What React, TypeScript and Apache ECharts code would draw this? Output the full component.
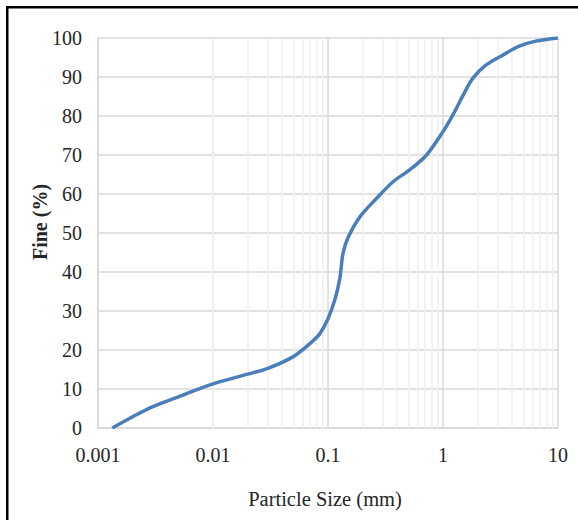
import React, { useEffect, useRef } from "react";
import * as echarts from "echarts";

// Particle size (mm) and percent finer
const sizes = [0.00133, 0.002, 0.003, 0.005, 0.01, 0.02, 0.03, 0.05, 0.07, 0.085, 0.1, 0.115, 0.127, 0.135, 0.15, 0.19, 0.265, 0.37, 0.52, 0.72, 1.0, 1.22, 1.5, 1.82, 2.37, 3.3, 4.6, 6.4, 10];
const fines = [0, 2.9, 5.5, 8.0, 11.3, 13.8, 15.3, 18.3, 21.7, 24.2, 28.0, 33.0, 38.5, 44.8, 49.0, 54.2, 58.9, 63.2, 66.3, 70.0, 76.0, 80.3, 85.4, 89.7, 93.1, 95.6, 97.9, 99.2, 100];

const xTickLabels = ["0.001", "0.01", "0.1", "1", "10"];
const decades = [0.001, 0.01, 0.1, 1];
const minorMultipliers = [2, 3, 4, 5, 6, 7, 8, 9];

const xTitle = "Particle Size (mm)";
const yTitle = "Fine (%)";

const FONT = "'Liberation Serif', 'Times New Roman', serif";

export default function App() {
  const ref = useRef<HTMLDivElement>(null);

  useEffect(() => {
    if (!ref.current) return;
    const chart = echarts.init(ref.current, undefined, { renderer: "svg" });
    const minorValues: number[] = [];
    decades.forEach((d) => minorMultipliers.forEach((m) => minorValues.push(Number((d * m).toPrecision(3)))));

    const option: any = {
      animation: false,
      backgroundColor: "#ffffff",
      grid: { left: 98, right: 20, top: 38, bottom: 92, containLabel: false },
      xAxis: {
        type: "log",
        logBase: 10,
        min: 0.001,
        max: 10,
        splitNumber: 4,
        axisLine: { show: true, lineStyle: { color: "#d9d9d9", width: 1.5 } },
        axisTick: { show: false },
        splitLine: { show: true, lineStyle: { color: "#d9d9d9", width: 1.5 } },
        axisLabel: {
          margin: 17,
          fontFamily: FONT,
          fontSize: 20,
          color: "#262626",
          formatter: (v: number) => {
            const lg = Math.round(Math.log10(v));
            return xTickLabels[lg + 3] ?? String(v);
          },
        },
      },
      yAxis: {
        type: "value",
        min: 0,
        max: 100,
        interval: 10,
        axisLine: { show: true, lineStyle: { color: "#d9d9d9", width: 1.5 } },
        axisTick: { show: false },
        splitLine: { show: true, lineStyle: { color: "#d9d9d9", width: 1.5 } },
        axisLabel: { margin: 16, fontFamily: FONT, fontSize: 20, color: "#262626" },
      },
      graphic: [
        {
          type: "rect",
          shape: { x: 7.25, y: 7.25, width: 700, height: 700 },
          style: { fill: "none", stroke: "#000000", lineWidth: 2.5 },
          silent: true,
        },
        {
          type: "text",
          x: 40,
          y: 222,
          rotation: Math.PI / 2,
          style: {
            text: yTitle,
            font: `bold 20px ${FONT}`,
            fill: "#262626",
            align: "center",
            verticalAlign: "middle",
          },
        },
        {
          type: "text",
          x: 325,
          y: 499,
          style: {
            text: xTitle,
            font: `20.5px ${FONT}`,
            fill: "#262626",
            align: "center",
            verticalAlign: "middle",
          },
        },
      ],
      series: [
        {
          type: "line",
          data: [],
          z: 1,
          silent: true,
          markLine: {
            silent: true,
            symbol: ["none", "none"],
            label: { show: false },
            lineStyle: { color: "#efefef", width: 1.5, type: "solid" },
            data: minorValues.map((v) => ({ xAxis: v })),
          },
        },
        {
          type: "line",
          data: sizes.map((s, i) => [s, fines[i]]),
          smooth: 0.3,
          showSymbol: false,
          symbol: "none",
          z: 5,
          lineStyle: { color: "#4a7ebb", width: 3.5 },
        },
      ],
    };
    chart.setOption(option);
    return () => chart.dispose();
  }, []);

  return (
    <div
      ref={ref}
      style={{ position: "fixed", left: 0, top: 0, width: 578, height: 520, background: "#fff" }}
    />
  );
}
